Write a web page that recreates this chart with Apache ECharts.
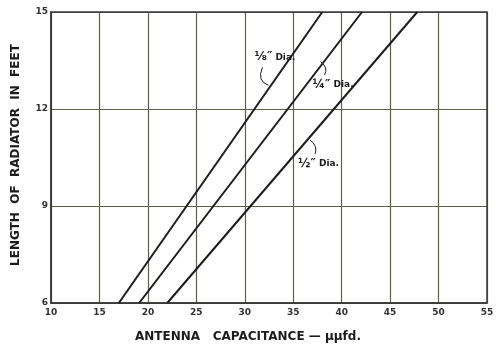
<!DOCTYPE html>
<html>
<head>
<meta charset="utf-8">
<script src="https://cdn.jsdelivr.net/npm/echarts@6/dist/echarts.min.js"></script>
<style>
  html, body { margin: 0; padding: 0; background: #fff; }
  #chart-panel { width: 499px; height: 349px; }
</style>
</head>
<body>
<div id="chart-panel"></div>
<script>
// capacitance (uuf) vs radiator length (ft)
var xTicks = [10, 15, 20, 25, 30, 35, 40, 45, 50, 55];
var yTicks = [6, 9, 12, 15];
var diaEighth = [[17.0, 6], [38.0, 15]];
var diaQuarter = [[19.1, 6], [42.1, 15]];
var diaHalf = [[22.0, 6], [47.8, 15]];
var lineLabels = ['{f|⅛″} Dia.', '{f|¼″} Dia.', '{f|½″} Dia.'];

var ink = '#1c1c1c';
var gridInk = '#5d5f4c';
var font = '"DejaVu Sans", sans-serif';

function lineSeries (name, data) {
  return {
    name: name,
    type: 'line',
    data: data,
    symbol: 'none',
    silent: true,
    lineStyle: { color: ink, width: 2 }
  };
}

var chart = echarts.init(document.getElementById('chart-panel'));

var option = {
  backgroundColor: '#fff',
  animation: false,
  grid: { left: 51, right: 12, top: 12, bottom: 46 },
  xAxis: {
    type: 'value',
    min: xTicks[0],
    max: xTicks[xTicks.length - 1],
    interval: 5,
    axisLine: { lineStyle: { color: '#3a3a3a', width: 1.5 } },
    axisTick: { show: false },
    axisLabel: { color: '#333', fontSize: 9, fontFamily: font, fontWeight: 'bold', margin: 5 },
    splitLine: { show: true, lineStyle: { color: gridInk, width: 1.2 } }
  },
  yAxis: {
    type: 'value',
    min: yTicks[0],
    max: yTicks[yTicks.length - 1],
    interval: 3,
    axisLine: { show: true, lineStyle: { color: '#3a3a3a', width: 1.5 } },
    axisTick: { show: false },
    axisLabel: { color: '#333', fontSize: 9, fontFamily: font, fontWeight: 'bold', margin: 3 },
    splitLine: { show: true, lineStyle: { color: gridInk, width: 1.2 } }
  },
  series: [
    lineSeries('1/8', diaEighth),
    lineSeries('1/4', diaQuarter),
    lineSeries('1/2', diaHalf)
  ]
};

chart.setOption(option);

// frame on top/right edges
var tl = chart.convertToPixel({ gridIndex: 0 }, [xTicks[0], yTicks[yTicks.length - 1]]);
var br = chart.convertToPixel({ gridIndex: 0 }, [xTicks[xTicks.length - 1], yTicks[0]]);

// label anchors in data space (capacitance, feet)
var anchors = [[31.0, 13.6], [37.0, 12.75], [35.5, 10.3]];
var px = anchors.map(function (a) { return chart.convertToPixel({ gridIndex: 0 }, a); });

var graphics = [
  {
    type: 'rect',
    shape: { x: tl[0], y: tl[1], width: br[0] - tl[0], height: br[1] - tl[1] },
    style: { fill: null, stroke: '#3a3a3a', lineWidth: 1.5 },
    silent: true
  },
  {
    type: 'text',
    x: 16,
    y: 155,
    rotation: Math.PI / 2,
    style: {
      text: 'LENGTH  OF  RADIATOR  IN  FEET',
      fill: ink,
      font: 'bold 12px ' + font,
      align: 'center',
      verticalAlign: 'middle'
    }
  },
  {
    type: 'text',
    x: 248,
    y: 337,
    style: {
      text: 'ANTENNA   CAPACITANCE — μμfd.',
      fill: ink,
      font: 'bold 12px ' + font,
      align: 'center',
      verticalAlign: 'middle'
    }
  }
];

// callout texts
px.forEach(function (p, i) {
  graphics.push({
    type: 'text',
    x: p[0],
    y: p[1],
    style: {
      text: lineLabels[i],
      fill: ink,
      font: 'bold 9px ' + font,
      align: 'left',
      verticalAlign: 'middle',
      rich: { f: { fontSize: 12, fontWeight: 'bold', fontFamily: font, fill: ink } }
    }
  });
});

// little curved leaders from each label to its line
var curves = [
  [[px[0][0] + 8, px[0][1] + 10], [px[0][0] + 2, px[0][1] + 24], [px[0][0] + 14, px[0][1] + 28]],
  [[px[1][0] + 8, px[1][1] - 23], [px[1][0] + 16, px[1][1] - 17], [px[1][0] + 12, px[1][1] - 10]],
  [[px[2][0] + 12, px[2][1] - 24], [px[2][0] + 20, px[2][1] - 18], [px[2][0] + 17, px[2][1] - 10]]
];
curves.forEach(function (c) {
  graphics.push({
    type: 'bezierCurve',
    shape: { x1: c[0][0], y1: c[0][1], cpx1: c[1][0], cpy1: c[1][1], x2: c[2][0], y2: c[2][1] },
    style: { stroke: ink, lineWidth: 1, fill: null },
    silent: true
  });
});

chart.setOption({ graphic: graphics });
</script>
</body>
</html>
